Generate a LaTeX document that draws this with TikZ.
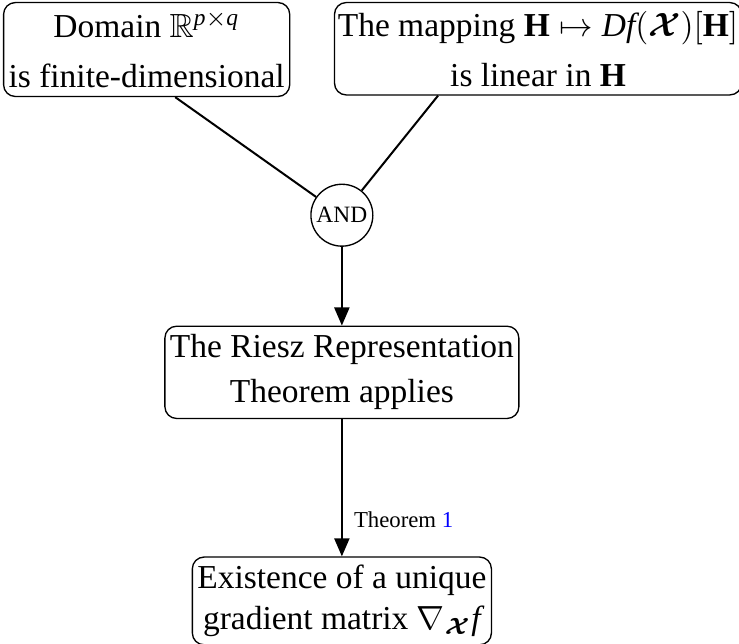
\documentclass[tikz,border=0pt]{standalone}
\usepackage{amsmath,amssymb}
\usepackage{bm}
\usepackage{fontspec}
\setmainfont{Liberation Serif}
\usepackage{tikz}
\usetikzlibrary{positioning,arrows.meta}

\begin{document}
\begin{tikzpicture}[
  cond/.style={draw, rounded corners=3.5pt, align=center, inner xsep=1.5pt, inner ysep=2.5pt},
  andgate/.style={circle, draw, minimum size=6.5mm, inner sep=0pt, font=\fontsize{7}{8}\selectfont},
  link/.style={semithick},
  flow/.style={-{Triangle[length=5.4pt,width=4.5pt]}, semithick}
]
\useasboundingbox (-3.59,2.26) rectangle (4.17,-4.50);
% Conditions
\node[cond, anchor=north] (dom) at (-2.05, 2.24) {Domain $\mathbb{R}^{\mathit{p}\times \mathit{q}}$\\[3pt]is finite-dimensional};
\node[cond, anchor=north, inner xsep=1pt] (lin) at (2.06, 2.24) {The mapping $\mathbf{H}\mapsto \mathit{Df}(\bm{\mathcal{X}})[\mathbf{H}]$\\[3pt]is linear in $\mathbf{H}$};
% Gate
\node[andgate] (and) at (0, 0) {AND};
\draw[link] ([xshift=0.30cm]dom.south) -- (and);
\draw[link] ([xshift=-1.05cm]lin.south) -- (and);
% Riesz
\node[cond] (riesz) at (0, -1.65) {The Riesz Representation\\[1.5pt]Theorem applies};
\draw[flow] (and) -- (riesz);
% Result
\node[cond] (grad) at (0, -4.05) {Existence of a unique\\gradient matrix $\nabla_{\bm{\mathcal{X}}} \mathit{f}$};
\draw[flow] (riesz) -- (grad)
  node[pos=0.73, right, font=\fontsize{6.8}{8}\selectfont]{Theorem \textcolor{blue}{1}};
\end{tikzpicture}
\end{document}
